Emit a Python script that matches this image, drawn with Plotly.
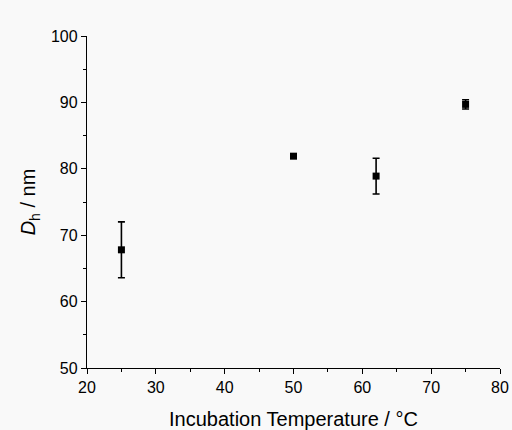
import plotly.graph_objects as go

temps = [25, 50, 62, 75]
dh = [67.8, 81.9, 78.9, 89.7]
err = [4.2, 0.3, 2.7, 0.7]

x_ticks = [20, 30, 40, 50, 60, 70, 80]
y_ticks = [50, 60, 70, 80, 90, 100]

bg = "#f9f9f9"
font = "Liberation Sans, Arial, sans-serif"

fig = go.Figure()
fig.add_trace(go.Scatter(
    x=temps, y=dh, mode="markers",
    marker=dict(symbol="square", size=7, color="black"),
    error_y=dict(type="data", array=err, visible=True, color="black",
                 thickness=1.6, width=3.5),
    showlegend=False,
))

fig.update_layout(
    width=512, height=430,
    margin=dict(l=87, r=12, t=36, b=62),
    paper_bgcolor=bg, plot_bgcolor=bg,
    font=dict(family=font, size=16, color="black"),
    xaxis=dict(
        range=[20, 80], tickvals=x_ticks, ticktext=[str(v) for v in x_ticks],
        automargin=False,
        showgrid=False, zeroline=False, showline=True, linecolor="black", linewidth=1.3,
        ticks="outside", ticklen=5, tickwidth=1.3, tickcolor="black",
        minor=dict(tickvals=[25, 35, 45, 55, 65, 75], ticks="outside", ticklen=3,
                   tickwidth=1.3, tickcolor="black", showgrid=False),
        tickfont=dict(size=16),
        title=dict(text="Incubation Temperature / °C", font=dict(size=20), standoff=16),
    ),
    yaxis=dict(
        range=[50, 100], tickvals=y_ticks, ticktext=[str(v) for v in y_ticks],
        automargin=False,
        showgrid=False, zeroline=False, showline=True, linecolor="black", linewidth=1.3,
        ticks="outside", ticklen=5, tickwidth=1.3, tickcolor="black",
        minor=dict(tickvals=[55, 65, 75, 85, 95], ticks="outside", ticklen=3,
                   tickwidth=1.3, tickcolor="black", showgrid=False),
        tickfont=dict(size=16),
        title=dict(text="<i>D</i><sub>h</sub> / nm", font=dict(size=20), standoff=9),
    ),
)

fig.write_html("out.html")
